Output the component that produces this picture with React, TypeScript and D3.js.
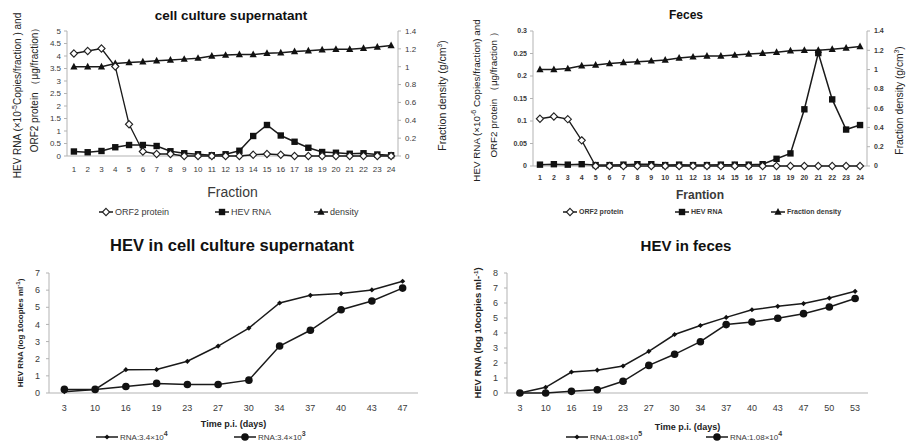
import React from 'react';
import * as d3 from 'd3';

// fractions from the gradient (top panels)
const fractions = ['1','2','3','4','5','6','7','8','9','10','11','12','13','14','15','16','17','18','19','20','21','22','23','24'];

const cellOrf2 = [4.1, 4.2, 4.3, 3.58, 1.27, 0.18, 0.08, 0.08, 0, 0, 0, 0, 0, 0.05, 0.08, 0.05, 0, 0, 0, 0, 0, 0, 0, 0];
const cellRna = [0.18, 0.15, 0.2, 0.35, 0.44, 0.44, 0.4, 0.19, 0.11, 0.07, 0.03, 0.07, 0.21, 0.8, 1.24, 0.82, 0.57, 0.33, 0.16, 0.13, 0.09, 0.11, 0.06, 0.03];
const cellDensity = [1.0, 1.0, 1.0, 1.037, 1.048, 1.055, 1.067, 1.075, 1.085, 1.096, 1.12, 1.13, 1.137, 1.137, 1.15, 1.157, 1.17, 1.178, 1.19, 1.196, 1.196, 1.207, 1.22, 1.237];
const cellLeftTicks = ['0', '0.5', '1', '1.5', '2', '2.5', '3', '3.5', '4', '4.5', '5'];

const fecesOrf2 = [0.105, 0.11, 0.104, 0.057, 0, 0, 0, 0, 0, 0, 0, 0, 0, 0, 0, 0, 0, 0, 0, 0, 0, 0, 0, 0];
const fecesRna = [0.003, 0.004, 0.003, 0.004, 0.002, 0.002, 0.003, 0.004, 0.004, 0.002, 0.003, 0.002, 0.002, 0.003, 0.003, 0.003, 0.004, 0.016, 0.028, 0.126, 0.251, 0.148, 0.081, 0.091];
const fecesDensity = [1.0, 1.0, 1.01, 1.04, 1.047, 1.062, 1.073, 1.08, 1.09, 1.1, 1.12, 1.132, 1.14, 1.14, 1.15, 1.162, 1.17, 1.18, 1.195, 1.2, 1.2, 1.21, 1.224, 1.24];
const fecesLeftTicks = ['0', '0.05', '0.1', '0.15', '0.2', '0.25', '0.3'];

const densityTicks = ['0', '0.2', '0.4', '0.6', '0.8', '1', '1.2', '1.4'];

// time courses (bottom panels)
const cellDays = ['3', '10', '16', '19', '23', '27', '30', '34', '37', '40', '43', '47'];
const cellHigh = [0.08, 0.21, 1.36, 1.37, 1.85, 2.74, 3.79, 5.25, 5.7, 5.8, 6.01, 6.52];
const cellLow = [0.21, 0.21, 0.38, 0.56, 0.5, 0.5, 0.75, 2.74, 3.66, 4.86, 5.37, 6.12];

const fecesDays = ['3', '10', '16', '19', '23', '27', '30', '34', '37', '40', '43', '47', '50', '53'];
const fecesHigh = [0, 0.38, 1.4, 1.52, 1.8, 2.78, 3.9, 4.5, 5.04, 5.55, 5.78, 5.96, 6.33, 6.78];
const fecesLow = [0, 0, 0.11, 0.22, 0.78, 1.84, 2.58, 3.42, 4.56, 4.73, 4.98, 5.29, 5.73, 6.3];

const AXIS = '#b3b3b3';
const TXT = '#3a3a3a';
const FONT = 'Liberation Sans, Arial, sans-serif';

const diamond = (r: number) => `M0,${-r}L${r},0L0,${r}L${-r},0Z`;
const square = (r: number) => `M${-r},${-r}H${r}V${r}H${-r}Z`;
const triangle = (r: number) => `M0,${-r * 1.1}L${r},${r * 0.75}L${-r},${r * 0.75}Z`;

type Marker = 'diamond' | 'square' | 'triangle' | 'smallDiamond' | 'circle';

function MarkerShape({ kind, x, y }: { kind: Marker; x: number; y: number }) {
  if (kind === 'diamond') return <path d={diamond(3.6)} transform={`translate(${x},${y})`} fill="#fff" stroke="#222" strokeWidth={1.1} />;
  if (kind === 'square') return <path d={square(3.2)} transform={`translate(${x},${y})`} fill="#111" />;
  if (kind === 'triangle') return <path d={triangle(3.6)} transform={`translate(${x},${y})`} fill="#111" />;
  if (kind === 'smallDiamond') return <path d={diamond(2.6)} transform={`translate(${x},${y})`} fill="#111" />;
  return <circle cx={x} cy={y} r={3.8} fill="#111" />;
}

function Series({ values, x, y, cats, kind, width = 1.5 }: { values: number[]; x: d3.ScaleBand<string>; y: d3.ScaleLinear<number, number>; cats: string[]; kind: Marker; width?: number }) {
  const cx = (i: number) => (x(cats[i]) as number) + x.bandwidth() / 2;
  const line = d3.line<number>().x((_, i) => cx(i)).y(d => y(d));
  return (
    <g>
      <path d={line(values) || ''} fill="none" stroke="#1a1a1a" strokeWidth={width} />
      {values.map((v, i) => <MarkerShape key={i} kind={kind} x={cx(i)} y={y(v)} />)}
    </g>
  );
}

type DualProps = {
  left: number; right: number; top: number; bottom: number;
  leftTicks: string[]; leftMax: number;
  orf2: number[]; rna: number[]; density: number[];
  title: string; titleX: number; titleY: number; titleSize: number;
  xTitle: string; xTitleY: number; xLabelY: number;
  yLine1: React.ReactNode; yLine2: string; yX1: number; yX2: number; yTitleSize: number;
  rTitleX: number; bold: boolean; tickSize: number;
  legendY: number; legendX: number[]; legendNames: string[]; legendSize: number;
};

function DualPanel(p: DualProps) {
  const x = d3.scaleBand<string>().domain(fractions).range([p.left, p.right]);
  const yL = d3.scaleLinear().domain([0, p.leftMax]).range([p.bottom, p.top]);
  const yR = d3.scaleLinear().domain([0, 1.4]).range([p.bottom, p.top]);
  const fw = p.bold ? 'bold' : 'normal';
  const midY = (p.top + p.bottom) / 2;
  const kinds: Marker[] = ['diamond', 'square', 'triangle'];
  return (
    <g fontFamily={FONT}>
      <text x={p.titleX} y={p.titleY} textAnchor="middle" fontWeight="bold" fontSize={p.titleSize} fill="#111">{p.title}</text>
      <line x1={p.left} x2={p.left} y1={p.top} y2={p.bottom} stroke={AXIS} />
      <line x1={p.right} x2={p.right} y1={p.top} y2={p.bottom} stroke={AXIS} />
      <line x1={p.left} x2={p.right} y1={p.bottom} y2={p.bottom} stroke={AXIS} />
      {p.leftTicks.map(t => (
        <g key={'l' + t}>
          <line x1={p.left - 3} x2={p.left} y1={yL(+t)} y2={yL(+t)} stroke={AXIS} />
          <text x={p.left - 6} y={yL(+t)} dy="0.35em" textAnchor="end" fontSize={p.tickSize} fontWeight={fw} fill={TXT}>{t}</text>
        </g>
      ))}
      {densityTicks.map(t => (
        <g key={'r' + t}>
          <line x1={p.right} x2={p.right + 3} y1={yR(+t)} y2={yR(+t)} stroke={AXIS} />
          <text x={p.right + 7} y={yR(+t)} dy="0.35em" textAnchor="start" fontSize={p.tickSize} fontWeight={fw} fill={TXT}>{t}</text>
        </g>
      ))}
      {fractions.map(f => (
        <text key={f} x={(x(f) as number) + x.bandwidth() / 2} y={p.xLabelY} textAnchor="middle" fontSize={p.tickSize} fontWeight={fw} fill={TXT}>{f}</text>
      ))}
      <Series values={p.density} x={x} y={yR} cats={fractions} kind="triangle" />
      <Series values={p.rna} x={x} y={yL} cats={fractions} kind="square" />
      <Series values={p.orf2} x={x} y={yL} cats={fractions} kind="diamond" width={1.3} />
      <text x={(p.left + p.right) / 2} y={p.xTitleY} textAnchor="middle" fontSize={p.bold ? 12 : 14} fontWeight={fw} fill={TXT}>{p.xTitle}</text>
      <text transform={`translate(${p.yX1},${midY + 2}) rotate(-90)`} textAnchor="middle" fontSize={p.yTitleSize} fill="#222">{p.yLine1}</text>
      <text transform={`translate(${p.yX2},${midY - 6}) rotate(-90)`} textAnchor="middle" fontSize={p.yTitleSize} fill="#222">{p.yLine2}</text>
      <text transform={`translate(${p.rTitleX},${midY + 2}) rotate(-90)`} textAnchor="middle" fontSize={p.yTitleSize + 0.5} fill="#222">
        Fraction density (g/cm<tspan dy={-4} fontSize={p.yTitleSize * 0.65}>3</tspan><tspan dy={4}>)</tspan>
      </text>
      {p.legendNames.map((n, i) => (
        <g key={n}>
          <line x1={p.legendX[i]} x2={p.legendX[i] + 14} y1={p.legendY} y2={p.legendY} stroke="#1a1a1a" strokeWidth={1.5} />
          <MarkerShape kind={kinds[i]} x={p.legendX[i] + 7} y={p.legendY} />
          <text x={p.legendX[i] + 16} y={p.legendY} dy="0.35em" fontSize={p.legendSize} fontWeight={fw} fill={TXT}>{n}</text>
        </g>
      ))}
    </g>
  );
}

type TimeProps = {
  left: number; right: number; top: number; bottom: number; yMax: number;
  days: string[]; high: number[]; low: number[];
  title: string; titleX: number; titleY: number; titleSize: number;
  xTitleY: number; yTitle: React.ReactNode; yTitleX: number; yTitleSize: number;
  legendY: number; legendX: number[]; legendNames: string[]; legendSups: string[];
};

function TimePanel(p: TimeProps) {
  const x = d3.scaleBand<string>().domain(p.days).range([p.left, p.right]);
  const y = d3.scaleLinear().domain([0, p.yMax]).range([p.bottom, p.top]);
  const kinds: Marker[] = ['smallDiamond', 'circle'];
  return (
    <g fontFamily={FONT}>
      <text x={p.titleX} y={p.titleY} textAnchor="middle" fontWeight="bold" fontSize={p.titleSize} fill="#111">{p.title}</text>
      <line x1={p.left} x2={p.left} y1={p.top} y2={p.bottom} stroke={AXIS} />
      <line x1={p.left} x2={p.right} y1={p.bottom} y2={p.bottom} stroke={AXIS} />
      {y.ticks(p.yMax).map(t => (
        <g key={t}>
          <line x1={p.left - 3} x2={p.left} y1={y(t)} y2={y(t)} stroke={AXIS} />
          <text x={p.left - 9} y={y(t)} dy="0.35em" textAnchor="end" fontSize={9} fill={TXT}>{t}</text>
        </g>
      ))}
      {p.days.map(d => (
        <text key={d} x={(x(d) as number) + x.bandwidth() / 2} y={p.bottom + 18} textAnchor="middle" fontSize={9} fill={TXT}>{d}</text>
      ))}
      <Series values={p.low} x={x} y={y} cats={p.days} kind="circle" />
      <Series values={p.high} x={x} y={y} cats={p.days} kind="smallDiamond" />
      <text x={(p.left + p.right) / 2} y={p.xTitleY} textAnchor="middle" fontSize={9} fontWeight="bold" fill="#222">Time p.i. (days)</text>
      <text transform={`translate(${p.yTitleX},${(p.top + p.bottom) / 2}) rotate(-90)`} textAnchor="middle" fontSize={p.yTitleSize} fontWeight="bold" fill="#222">{p.yTitle}</text>
      {p.legendNames.map((n, i) => (
        <g key={n + i}>
          <line x1={p.legendX[i]} x2={p.legendX[i] + 22} y1={p.legendY} y2={p.legendY} stroke="#1a1a1a" strokeWidth={1.5} />
          <MarkerShape kind={kinds[i]} x={p.legendX[i] + 11} y={p.legendY} />
          <text x={p.legendX[i] + 24} y={p.legendY} dy="0.35em" fontSize={8} fill={TXT}>
            {n}<tspan dy={-4} fontSize={7} fontWeight="bold">{p.legendSups[i]}</tspan>
          </text>
        </g>
      ))}
    </g>
  );
}

export default function App() {
  return (
    <svg width={909} height={446} style={{ position: 'absolute', left: 0, top: 0, background: '#fff' }}>
      <DualPanel
        left={67} right={398} top={31} bottom={156}
        leftTicks={cellLeftTicks} leftMax={5}
        orf2={cellOrf2} rna={cellRna} density={cellDensity}
        title="cell culture supernatant" titleX={231} titleY={20} titleSize={13.5}
        xTitle="Fraction" xTitleY={197} xLabelY={172}
        yLine1={<>HEV RNA (×10<tspan dy={-4} fontSize={7}>-5</tspan><tspan dy={4}>Copies/fraction ) and</tspan></>}
        yLine2="ORF2 protein （μg/fraction）" yX1={21} yX2={38} yTitleSize={10}
        rTitleX={446} bold={false} tickSize={8}
        legendY={212} legendX={[99, 215, 314]} legendNames={['ORF2 protein', 'HEV RNA', 'density']} legendSize={9}
      />
      <DualPanel
        left={533} right={867} top={31} bottom={166}
        leftTicks={fecesLeftTicks} leftMax={0.3}
        orf2={fecesOrf2} rna={fecesRna} density={fecesDensity}
        title="Feces" titleX={686} titleY={19} titleSize={12}
        xTitle="Frantion" xTitleY={199} xLabelY={180}
        yLine1={<>HEV RNA (×10<tspan dy={-4} fontSize={7}>-6</tspan><tspan dy={4}> Copies/fraction) and</tspan></>}
        yLine2="ORF2 protein （μg/fraction ）" yX1={480} yX2={497} yTitleSize={9.8}
        rTitleX={903} bold={true} tickSize={7}
        legendY={212} legendX={[563, 675, 771]} legendNames={['ORF2 protein', 'HEV RNA', 'Fraction density']} legendSize={7}
      />
      <TimePanel
        left={49} right={418} top={273} bottom={393} yMax={7}
        days={cellDays} high={cellHigh} low={cellLow}
        title="HEV in cell culture supernatant" titleX={232} titleY={251} titleSize={16.5}
        xTitleY={427} yTitleX={23} yTitleSize={8}
        yTitle={<>HEV RNA (log 10copies ml<tspan dy={-3} fontSize={6}>-1</tspan><tspan dy={3}>)</tspan></>}
        legendY={437} legendX={[96, 234]} legendNames={['RNA:3.4×10', 'RNA:3.4×10']} legendSups={['4', '3']}
      />
      <TimePanel
        left={507} right={868} top={273} bottom={393} yMax={8}
        days={fecesDays} high={fecesHigh} low={fecesLow}
        title="HEV in feces" titleX={686} titleY={251} titleSize={15}
        xTitleY={430} yTitleX={481} yTitleSize={9.5}
        yTitle={<>HEV RNA (log 10copies ml-<tspan dy={-3} fontSize={6}>-1</tspan><tspan dy={3}>)</tspan></>}
        legendY={437} legendX={[566, 706]} legendNames={['RNA:1.08×10', 'RNA:1.08×10']} legendSups={['5', '4']}
      />
    </svg>
  );
}
